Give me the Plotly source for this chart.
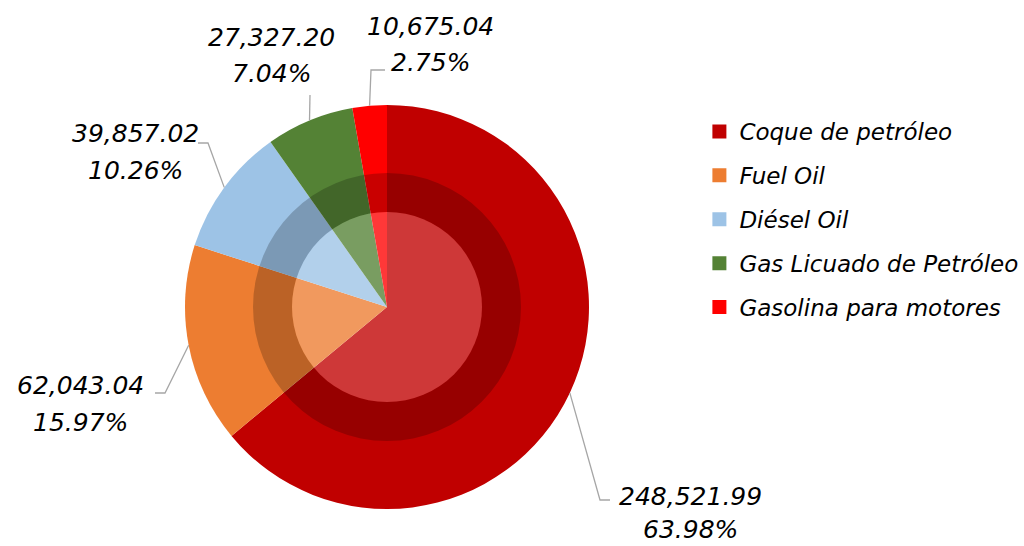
import plotly.graph_objects as go
import math

categories = ["Coque de petróleo", "Fuel Oil", "Diésel Oil", "Gas Licuado de Petróleo", "Gasolina para motores"]
values = [248521.99, 62043.04, 39857.02, 27327.20, 10675.04]
colors = ["#C00000", "#ED7D31", "#9DC3E6", "#548235", "#FF0000"]

W, H = 1024, 546
CX, CY, R = 387, 307, 202      # pie centre and radius in pixels
R_RING, R_IN = 134, 95         # shaded ring radii
FONT = "DejaVu Sans"

def dom(r):
    return dict(x=[(CX - r) / W, (CX + r) / W], y=[(H - CY - r) / H, (H - CY + r) / H])

fig = go.Figure()
fig.add_trace(go.Pie(labels=categories, values=values, sort=False, direction="clockwise",
                     rotation=0, marker=dict(colors=colors, line=dict(width=0)),
                     textinfo="none", hoverinfo="skip", showlegend=False, domain=dom(R)))
# darker ring overlay
fig.add_trace(go.Pie(labels=["ring"], values=[1], hole=R_IN / R_RING, marker=dict(colors=["rgba(0,0,0,0.21)"], line=dict(width=0)),
                     textinfo="none", hoverinfo="skip", showlegend=False, domain=dom(R_RING)))
# lighter inner disk overlay
fig.add_trace(go.Pie(labels=["in"], values=[1], marker=dict(colors=["rgba(255,255,255,0.22)"], line=dict(width=0)),
                     textinfo="none", hoverinfo="skip", showlegend=False, domain=dom(R_IN)))

# legend entries
for i, (c, col) in enumerate(zip(categories, colors)):
    fig.add_trace(go.Scatter(x=[None], y=[None], mode="markers", name=c, legendgroup=str(i),
                             marker=dict(symbol="square", size=14, color=col)))

total = sum(values)
# label placement (text centre x, y line1, y line2) and leader-line elbow/end in pixels
label_pos = [(690, 496, 529), (80, 385, 422), (135, 133, 170), (271, 38, 74), (430, 26, 62)]
elbows = [((600, 500), (610, 500)), ((165, 393), (155, 393)), ((208, 143), (198, 143)),
          ((310, 95), (310, 95)), ((371, 70), (385, 70))]

annotations = []
shapes = []
cum = 0
for i, v in enumerate(values):
    mid = (cum + v / 2) / total * 2 * math.pi
    cum += v
    sx = CX + R * math.sin(mid)
    sy = CY - R * math.cos(mid)
    (ex, ey), (fx, fy) = elbows[i]
    pts = [(sx, sy), (ex, ey), (fx, fy)]
    path = "M " + " L ".join(f"{x / W},{1 - y / H}" for x, y in pts)
    shapes.append(dict(type="path", xref="paper", yref="paper", path=path,
                       line=dict(color="#A6A6A6", width=1.3)))
    tx, y1, y2 = label_pos[i]
    for txt, yy in ((f"{v:,.2f}", y1), (f"{v / total * 100:.2f}%", y2)):
        annotations.append(dict(x=tx / W, y=1 - yy / H, xref="paper", yref="paper",
                                text=txt, showarrow=False, xanchor="center", yanchor="middle",
                                font=dict(family=FONT, size=25, color="#000000", style="italic")))

fig.update_layout(
    width=W, height=H, margin=dict(l=0, r=0, t=0, b=0),
    paper_bgcolor="white", plot_bgcolor="white",
    xaxis=dict(visible=False), yaxis=dict(visible=False),
    shapes=shapes, annotations=annotations,
    legend=dict(x=0.683, y=1 - 110 / H, xanchor="left", yanchor="top",
                font=dict(family=FONT, size=23, color="#000000", style="italic"),
                tracegroupgap=11, bgcolor="rgba(0,0,0,0)", itemclick=False),
)
fig.write_html("out.html", config={"displayModeBar": False},
               post_script="document.body.style.margin='0px';")
